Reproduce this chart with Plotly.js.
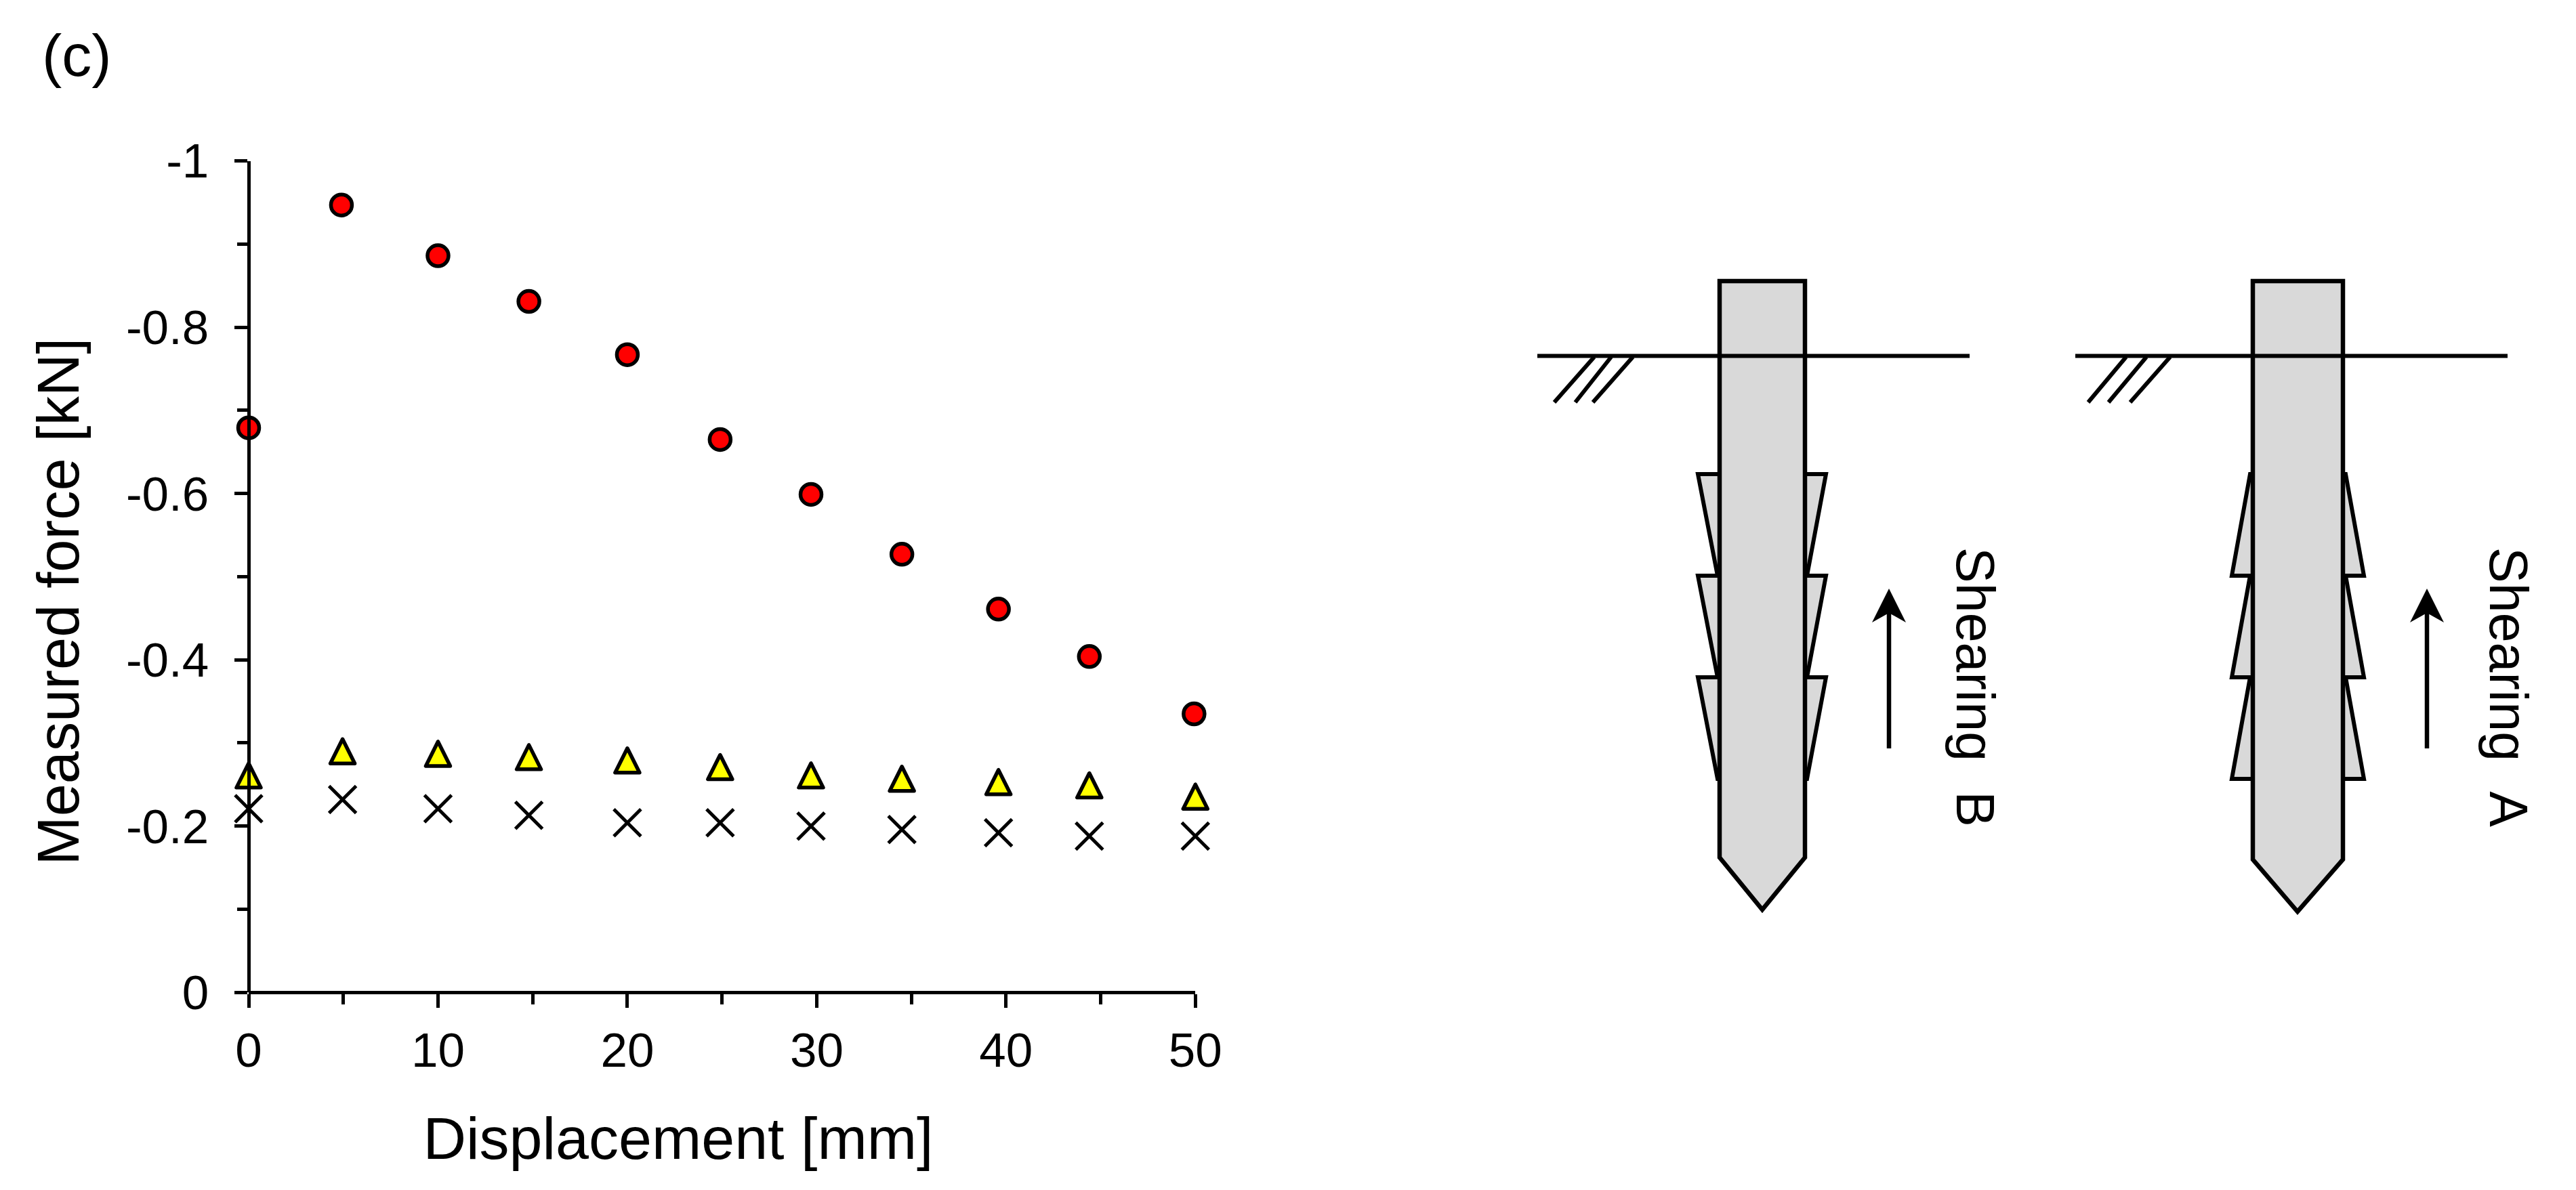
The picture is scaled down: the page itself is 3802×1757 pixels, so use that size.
<!DOCTYPE html>
<html><head><meta charset="utf-8">
<script src="https://cdn.plot.ly/plotly-3.0.1.min.js"></script>
<style>html,body{margin:0;padding:0;background:#fff}</style></head>
<body><div id="chart" style="width:3802px;height:1757px"></div>
<script>
const displacementRed = [0,4.9,10,14.8,20,24.9,29.7,34.5,39.6,44.4,49.93];
const forceRed = [-0.679,-0.947,-0.886,-0.831,-0.767,-0.665,-0.599,-0.527,-0.461,-0.404,-0.335];
const displacementTri = [0,4.96,10,14.8,20,24.9,29.7,34.5,39.6,44.4,50];
const forceTri = [-0.261,-0.29,-0.287,-0.283,-0.279,-0.271,-0.261,-0.257,-0.253,-0.249,-0.2355];
const displacementX = [0,4.96,10,14.8,20,24.9,29.7,34.5,39.6,44.4,50];
const forceX = [-0.221,-0.232,-0.221,-0.213,-0.204,-0.204,-0.2,-0.196,-0.192,-0.188,-0.188];
const yTickVals = [0,-0.2,-0.4,-0.6,-0.8,-1];
const yTickText = ['0','-0.2','-0.4','-0.6','-0.8','-1'];
const xTickVals = [0,10,20,30,40,50];
const xTickText = ['0','10','20','30','40','50'];

const FONT = 'Liberation Sans, Arial, sans-serif';
const W = 3802, H = 1757;
const ax = {l:367, r:1764.3, t:237.6, b:1465.3};

function poly(pts){ return 'M' + pts.map(p=>p.join(',')).join(' L') + ' Z'; }
function line(x0,y0,x1,y1,w){ return {type:'line',xref:'x2',yref:'y2',x0,y0,x1,y1,line:{color:'#000',width:w}}; }
function fill(pts,col,w){ return {type:'path',xref:'x2',yref:'y2',path:poly(pts),fillcolor:col,line:{color:'#000',width:w}}; }

function diagram(d){
  const s = [];
  d.wedgeTops.forEach(t=>{
    if(d.upward){
      s.push(fill([[d.left+3,t+150],[d.outerL,t+150],[d.left-4,t],[d.left+3,t]],'#d9d9d9',6));
      s.push(fill([[d.right-3,t+150],[d.outerR,t+150],[d.right+4,t],[d.right-3,t]],'#d9d9d9',6));
    } else {
      s.push(fill([[d.left+3,t],[d.outerL,t],[d.left-3,t+150],[d.left+3,t+150]],'#d9d9d9',6));
      s.push(fill([[d.right-3,t],[d.outerR,t],[d.right+3,t+150],[d.right-3,t+150]],'#d9d9d9',6));
    }
  });
  s.push(fill([[d.left,415],[d.right,415],[d.right,d.shoulder],[d.tipX,d.tipY],[d.left,d.shoulder]],'#d9d9d9',6.5));
  s.push(line(d.gx0,525.5,d.gx1,525.5,6));
  d.hatch.forEach(h=>s.push(line(h[0],527,h[1],594,6)));
  s.push(line(d.arrowX,1105,d.arrowX,905,6.5));
  s.push(fill([[d.arrowX,869],[d.arrowX-25,919],[d.arrowX,905],[d.arrowX+25,919]],'#000',0));
  return s;
}
const pileB = {left:2538,right:2664,shoulder:1266,tipX:2601,tipY:1343,outerL:2506,outerR:2695,gx0:2269,gx1:2907,
  hatch:[[2353,2294],[2378,2325],[2410,2351]],wedgeTops:[700,850,1000],upward:false,arrowX:2788};
const pileA = {left:3325,right:3458,shoulder:1269,tipX:3391,tipY:1346,outerL:3294,outerR:3489,gx0:3063,gx1:3701,
  hatch:[[3138,3082],[3168,3112],[3203,3144]],wedgeTops:[700,850,1000],upward:true,arrowX:3582};

const traces = [
 {x:displacementX,y:forceX,mode:'markers',type:'scatter',name:'x',cliponaxis:false,
  marker:{symbol:'x-thin',size:40,color:'#000',line:{color:'#000',width:5}}},
 {x:displacementTri,y:forceTri,mode:'markers',type:'scatter',name:'triangle',cliponaxis:false,
  marker:{symbol:'triangle-up',size:34,color:'#ffff00',line:{color:'#000',width:5.5}}},
 {x:displacementRed,y:forceRed,mode:'markers',type:'scatter',name:'circle',cliponaxis:false,
  marker:{symbol:'circle',size:31,color:'#ff0000',line:{color:'#000',width:5.5}}}
];
const layout = {
  width:W,height:H,margin:{l:0,r:0,t:0,b:0,pad:0},paper_bgcolor:'#fff',plot_bgcolor:'rgba(0,0,0,0)',showlegend:false,
  font:{family:FONT,color:'#000',size:72},
  xaxis:{domain:[ax.l/W,ax.r/W],range:[0,50],anchor:'free',position:1-ax.b/H,showgrid:false,zeroline:false,showline:true,linewidth:5,linecolor:'#000',
    ticks:'outside',ticklen:20,tickwidth:5,tickcolor:'#000',tickmode:'array',tickvals:xTickVals,ticktext:xTickText,
    tickfont:{family:FONT,size:71,color:'#000'},tickangle:0,ticklabelstandoff:1,
    minor:{ticks:'outside',ticklen:15,tickwidth:5,tickcolor:'#000',dtick:5,tick0:0,showgrid:false},
    title:{text:'Displacement [mm]',font:{family:FONT,size:88,color:'#000'}}},
  yaxis:{domain:[1-ax.b/H,1-ax.t/H],range:[0,-1],anchor:'free',position:ax.l/W,showgrid:false,zeroline:false,showline:true,linewidth:5,linecolor:'#000',
    ticks:'outside',ticklen:19.5,tickwidth:5,tickcolor:'#000',tickmode:'array',tickvals:yTickVals,ticktext:yTickText,
    tickfont:{family:FONT,size:71,color:'#000'},ticklabelstandoff:23,
    minor:{ticks:'outside',ticklen:15.5,tickwidth:5,tickcolor:'#000',dtick:0.1,tick0:0,showgrid:false},
    title:{text:'Measured force [kN]',font:{family:FONT,size:86.5,color:'#000'}}},
  xaxis2:{domain:[0.5,1],range:[W/2,W],anchor:'y2',visible:false,fixedrange:true},
  yaxis2:{domain:[0,1],range:[H,0],anchor:'x2',visible:false,fixedrange:true},
  shapes:[...diagram(pileB),...diagram(pileA)],
  annotations:[
    {text:'(c)',xref:'paper',yref:'paper',x:60/W,y:1-82/H,xanchor:'left',yanchor:'middle',showarrow:false,font:{family:FONT,size:88,color:'#000'}},
    {text:'Shearing\u00A0\u00A0B',xref:'x2',yref:'y2',x:2916,y:1014,textangle:90,showarrow:false,xanchor:'center',yanchor:'middle',font:{family:FONT,size:79,color:'#000'}},
    {text:'Shearing\u00A0\u00A0A',xref:'x2',yref:'y2',x:3703,y:1014,textangle:90,showarrow:false,xanchor:'center',yanchor:'middle',font:{family:FONT,size:79,color:'#000'}}
  ]
};
Plotly.newPlot('chart',traces,layout,{displayModeBar:false,staticPlot:true}).then(()=>{
  // Reference triangles are as tall as they are wide; position still comes from the library's scale.
  document.querySelectorAll('.scatterlayer .trace:nth-child(2) path.point').forEach(p=>{
    p.setAttribute('d','M-18,18H18L0,-18Z');
    p.style.strokeLinejoin='round';
  });
  const xt=document.querySelector('.xtitle');
  if(xt){xt.setAttribute('x',1001);xt.setAttribute('y',1716);}
  const yt=document.querySelector('.ytitle');
  if(yt){yt.setAttribute('x',130);yt.setAttribute('y',888);yt.setAttribute('transform','rotate(-90,130,888)');}
});
</script></body></html>
